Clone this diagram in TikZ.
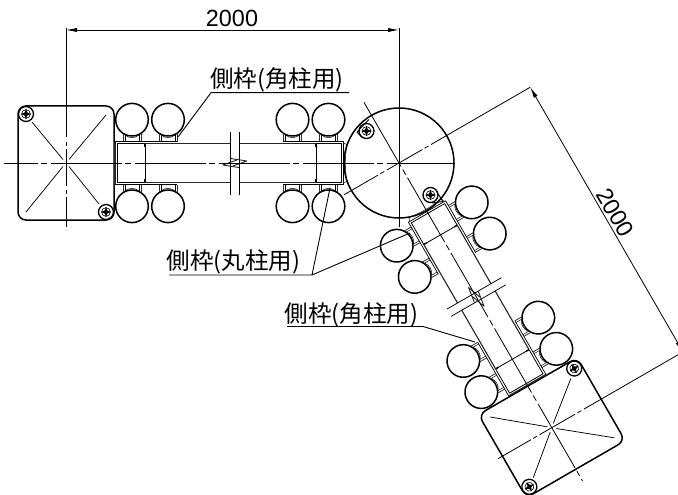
\documentclass[tikz,border=0pt]{standalone}
\usepackage{fontspec}
\setmainfont{Liberation Sans}
\newfontfamily\cjk{Noto Sans CJK JP}
\usetikzlibrary{arrows.meta}
\tikzset{
  thickline/.style={line width=1.5pt,black},
  midline/.style={line width=1.1pt,black!85},
  thinline/.style={line width=0.75pt,black},
  centerline/.style={line width=0.8pt,black},
  dimline/.style={line width=0.8pt,black,{Latex[length=11pt,width=4.2pt]}-{Latex[length=11pt,width=4.2pt]}},
  textlabel/.style={font=\fontsize{23.5}{28}\selectfont\cjk,inner sep=0pt},
  dimtext/.style={font=\fontsize{23.4}{28}\selectfont,inner sep=0pt}
}
% screw at local position
\newcommand{\screwat}[2]{%
  \begin{scope}[shift={(#1,#2)}]
    \draw[line width=1.3pt] (0,0) circle[radius=7.5pt];
    \draw[line width=0.6pt] (0,0) circle[radius=4.4pt];
    \fill (5.2,0) -- (1.4,1.4) -- (0,5.2) -- (-1.4,1.4) -- (-5.2,0) -- (-1.4,-1.4) -- (0,-5.2) -- (1.4,-1.4) -- cycle;
  \end{scope}}
% roller with its bracket, at u, side +1 / -1
\newcommand{\rollerat}[2]{%
  \begin{scope}[shift={(#1,0)},yscale=#2]
    \draw[thickline] (0,43.3) circle[radius=16.3pt];
    \draw[line width=0.8pt,black!80] (-9,21.5) -- (-9,29.4) (9,21.5) -- (9,29.4);
    \draw[line width=0.45pt] (-7,21.5) -- (-7,28) (7,21.5) -- (7,28);
    \draw[line width=0.5pt] (-7,28) .. controls (-3,24.5) and (3,24.5) .. (7,28);
  \end{scope}}
% one arm, from the centre of the corner post out to the far box
\newcommand{\armpart}[2]{%
  \foreach \s in {1,-1}{
    \rollerat{70.5}{\s}\rollerat{106.5}{\s}
    \rollerat{#1-102}{\s}\rollerat{#1-66}{\s}
  }
  % box
  \draw[thickline,rounded corners=8pt] ({#1-48},-57) rectangle ({#1+48},57);
  \screwat{#1+40}{49}\screwat{#1-40}{-49}
  \draw[thinline] ({#1+3},3.5) -- ({#1+34},41) ({#1-3},3.5) -- ({#1-40},48)
                  ({#1+3},-3.5) -- ({#1+40},-49) ({#1-3},-3.5) -- ({#1-33},-41);
  % far frame
  \draw[line width=1.3pt,black!85] ({#1-49},-21.5) -- ({#1-49},21.5);
  \draw[line width=0.7pt] ({#1-49},21.5) -- ({#1-111},21.5) ({#1-49},-21.5) -- ({#1-111},-21.5);
  \draw[line width=0.8pt] ({#1-51},-19.3) rectangle ({#1-79},19.3);
  \draw[line width=1.4pt] ({#1-79},16) -- ({#1-79},19.3) ({#1-79},-16) -- ({#1-79},-19.3);
  % near frame
  \draw[line width=0.7pt] (116,21.5) -- (56,21.5) -- (56,-21.5) -- (116,-21.5);
  \draw[line width=0.8pt] (58,-19.3) rectangle (83,19.3);
  \draw[line width=1.4pt] (83,16) -- (83,19.3) (83,-16) -- (83,-19.3);
  \draw[line width=0.7pt,black!75] (56,20) -- (52,18.5) .. controls (54.2,8) and (54.2,-8) .. (52,-18.5) -- (56,-20);
  % column and break
  \draw[midline] (83,19.3) -- (#2,19.3) (83,-19.3) -- (#2,-19.3)
                 ({#2+8.4},19.3) -- ({#1-79},19.3) ({#2+8.4},-19.3) -- ({#1-79},-19.3);
  \draw[thinline] (#2,-31.5) -- (#2,31.5) ({#2+8.4},-31.5) -- ({#2+8.4},31.5);
  \draw[midline,line width=0.9pt] ({#2+8.2},4.5) -- ({#2-7.8},2) -- ({#2+6.2},-3)
                 ({#2+0.2},-4.5) -- ({#2+16.2},-2) -- ({#2+2.2},3);
}
\begin{document}
\begin{tikzpicture}[x=1pt,y=-1pt,line join=round]
\useasboundingbox (0,0) rectangle (678,495);
\clip (0,0) rectangle (678,495);
\coordinate (C) at (399,163);
% horizontal arm
\begin{scope}[shift={(C)},rotate=180]
  \armpart{333}{160}
\end{scope}
% inclined arm
\begin{scope}[shift={(C)},rotate=-60]
  \armpart{305.6}{150.5}
  \draw[centerline,dash pattern=on 74pt off 3.5pt on 6pt off 3.5pt] (-70,0) -- (367,0);
  \draw[centerline] (0,63.7) -- (0,24) (0,21.5) -- (0,17) (0,14) -- (0,-27) (0,-29.5) -- (0,-34) (0,-37) -- (0,-151.5);
  \draw[centerline] (305.6,62) -- (305.6,24) (305.6,21.5) -- (305.6,17) (305.6,14) -- (305.6,-27) (305.6,-29.5) -- (305.6,-34) (305.6,-37) -- (305.6,-160);
  \coordinate (dimA) at (0,-151.5);
  \coordinate (dimB) at (305.6,-151.5);
  \draw[dimline] (dimA) -- (dimB);
  \node[dimtext,rotate=-60] (dimR) at (151,-162.5) {2000};
\end{scope}
% corner post
\draw[thickline] (C) circle[radius=55pt];
\screwat{366.5}{131}\screwat{430.5}{195}
\draw[line width=0.9pt] (369,119.5) -- (357,132) -- (362.5,138);
\draw[line width=0.9pt] (436.7,191.7) -- (443,201.5) -- (432,203);
% centre lines
\draw[centerline,dash pattern=on 71pt off 3.5pt on 6pt off 3.5pt,dash phase=37.5pt] (4,163) -- (455,163);
\draw[centerline] (66,28) -- (66,137) (66,142) -- (66,145.5) (66,148.5) -- (66,186) (66,190) -- (66,193.5) (66,197) -- (66,227);
\draw[centerline] (399,28) -- (399,227);
% top dimension
\coordinate (dimL) at (66,30);
\coordinate (dimM) at (399,30);
\draw[dimline] (dimL) -- (dimM);
\node[dimtext] (dimT) at (232,18.5) {2000};
% labels and leaders
\node[textlabel] (lab1) at (277,79.5) {側枠(角柱用)};
\node[textlabel] (lab2) at (233.5,262) {側枠(丸柱用)};
\node[textlabel] (lab3) at (351.5,314.5) {側枠(角柱用)};
\coordinate (u1a) at (211,92.7); \coordinate (u1b) at (349,92.7); \coordinate (t1) at (178,137);
\coordinate (u2a) at (169,275); \coordinate (u2b) at (312,275); \coordinate (t2a) at (330,188); \coordinate (t2b) at (410,233);
\coordinate (u3a) at (287,326.5); \coordinate (u3b) at (423,326.5); \coordinate (t3) at (475,342);
\draw[thinline,line width=0.9pt] (t1) -- (u1a) -- (u1b);
\draw[thinline,line width=0.9pt] (u2a) -- (u2b) -- (t2a) (u2b) -- (t2b);
\draw[thinline,line width=0.9pt] (u3a) -- (u3b) -- (t3);
\end{tikzpicture}
\end{document}
